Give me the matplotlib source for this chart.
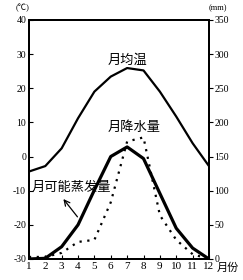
import matplotlib
matplotlib.use("Agg")
import matplotlib.pyplot as plt

plt.rcParams['font.family'] = ['Liberation Serif', 'Noto Sans CJK SC']
plt.rcParams['axes.unicode_minus'] = False

months = list(range(1, 13))
temp = [-4.4, -2.8, 2.4, 11.2, 19.0, 23.4, 25.9, 25.2, 19.0, 11.7, 3.9, -2.8]
evap = [0, 1, 18, 50, 101, 150, 164, 147, 96, 45, 16, 0]
precip = [3, 3, 9, 25, 28, 83, 172, 178, 64, 28, 7, 0]

fig = plt.figure(figsize=(2.43, 2.8), dpi=100)
ax = fig.add_axes([0.119, 0.075, 0.741, 0.854])
ax2 = ax.twinx()

ax.plot(months, temp, color="black", lw=1.6)
ax2.plot(months, evap, color="black", lw=2.3)
ax2.plot(months, precip, color="black", lw=1.6, linestyle=(0, (1, 2.5)))

ax.set_xlim(1, 12)
ax.set_ylim(-30, 40)
ax2.set_ylim(0, 350)
ax.set_xticks(months)
ax.set_xticklabels([str(m) for m in months])
ax.set_yticks(range(-30, 41, 10))
ax2.set_yticks(range(0, 351, 50))

ax.tick_params(axis="x", direction="in", length=3, labelsize=8, pad=2)
ax.tick_params(axis="y", direction="in", length=3, labelsize=7, pad=2)
ax2.tick_params(axis="y", direction="out", length=3, labelsize=7, pad=1)
for a in (ax, ax2):
    for s in a.spines.values():
        s.set_linewidth(1.4)

ax.text(12.45, -32.7, "月份", fontsize=8, ha="left", va="center", clip_on=False)
ax.text(0.6, 43.5, "(℃)", fontsize=6, ha="center", va="center", clip_on=False)
ax.text(12.55, 43.5, "(mm)", fontsize=6, ha="center", va="center", clip_on=False)

ax.text(7.05, 28.0, "月均温", fontsize=9.5, ha="center", va="center")
ax.text(7.4, 8.4, "月降水量", fontsize=9.5, ha="center", va="center")
ax.text(3.6, -9.3, "月可能蒸发量", fontsize=9.5, ha="center", va="center")
ax.annotate("", xy=(3.0, -11.8), xytext=(4.07, -18.3),
            arrowprops=dict(arrowstyle="->", color="black", lw=0.9))

fig.savefig("out.png", dpi=100)
